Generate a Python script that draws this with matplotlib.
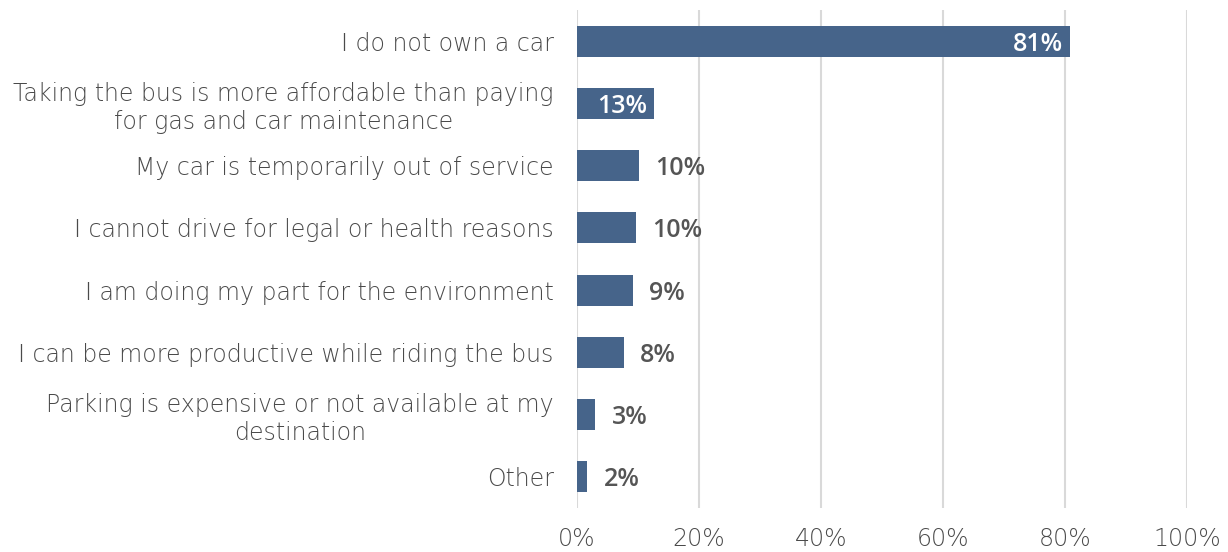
import matplotlib.pyplot as plt
from matplotlib.ticker import FuncFormatter

reasons = [
    'I do not own a car',
    'Taking the bus is more affordable than paying\nfor gas and car maintenance',
    'My car is temporarily out of service',
    'I cannot drive for legal or health reasons',
    'I am doing my part for the environment',
    'I can be more productive while riding the bus',
    'Parking is expensive or not available at my\ndestination',
    'Other',
]
shares = [80.8, 12.6, 10.1, 9.6, 9.1, 7.6, 3.0, 1.6]
xticks = [0, 20, 40, 60, 80, 100]

bar_color = '#46648A'
text_color = '#4A4A4A'
font = 'DejaVu Sans'

fig = plt.figure(figsize=(12.28, 5.52), dpi=100)
ax = fig.add_axes([0.47, 0.0797, 0.4966, 0.9023])

ypos = list(range(len(reasons)))
ax.barh(ypos, shares, height=0.5, color=bar_color, zorder=3)

for y, v in zip(ypos, shares):
    label = f'{v:.0f}%'
    if v >= 12:
        ax.annotate(label, (v, y), xytext=(-5, 0), textcoords='offset points',
                    ha='right', va='center_baseline', color='white', fontsize=18,
                    fontweight='semibold', family='Open Sans', zorder=4)
    else:
        ax.annotate(label, (v, y), xytext=(12, 0), textcoords='offset points',
                    ha='left', va='center_baseline', color='#555555', fontsize=18,
                    fontweight='semibold', family='Open Sans', zorder=4)

ax.set_xlim(0, 100)
ax.set_ylim(len(reasons) - 0.5, -0.5)
ax.set_xticks(xticks)
ax.xaxis.set_major_formatter(FuncFormatter(lambda x, _: f'{x:.0f}%'))
ax.set_yticks(ypos)
ax.set_yticklabels(reasons, multialignment='center')

ax.grid(axis='x', color='#D9D9D9', linewidth=1.5, zorder=0)
for s in ax.spines.values():
    s.set_visible(False)
ax.tick_params(axis='both', length=0, colors=text_color, labelsize=17)
ax.tick_params(axis='y', pad=17)
ax.tick_params(axis='x', pad=14)
for t in ax.get_xticklabels() + ax.get_yticklabels():
    t.set_family(font)
    t.set_fontweight('light')

fig.savefig('out.png', dpi=100, facecolor='white')
